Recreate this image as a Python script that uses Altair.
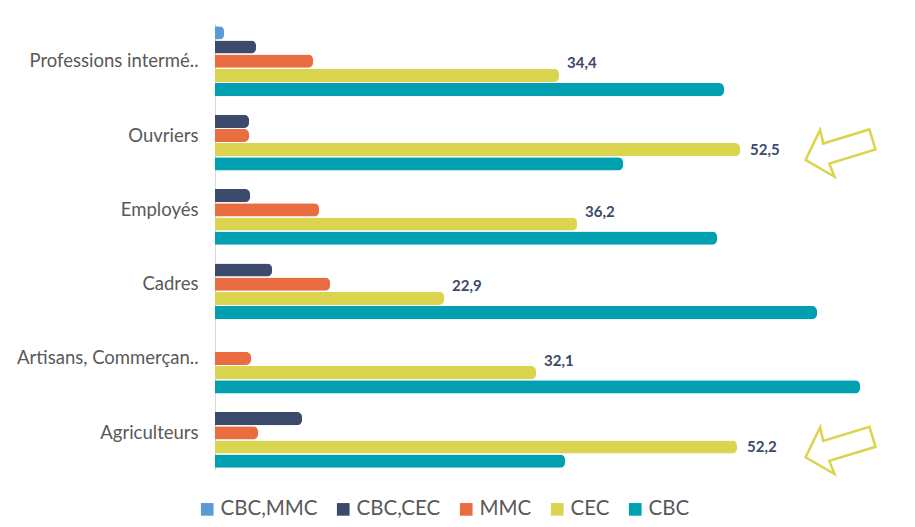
import altair as alt
import pandas as pd

categories = ["Professions intermé..", "Ouvriers", "Employés", "Cadres",
              "Artisans, Commerçan..", "Agriculteurs"]
series = ["CBC,MMC", "CBC,CEC", "MMC", "CEC", "CBC"]
cbc_mmc = [0.9, 0.0, 0.0, 0.0, 0.0, 0.0]
cbc_cec = [4.1, 3.4, 3.5, 5.7, 0.0, 8.7]
mmc = [9.8, 3.4, 10.4, 11.5, 3.6, 4.3]
cec = [34.4, 52.5, 36.2, 22.9, 32.1, 52.2]
cbc = [50.9, 40.8, 50.2, 60.2, 64.5, 35.0]
colors = ["#5b9bd5", "#3c4a6b", "#ea6c41", "#dbd44f", "#00a0b0"]
highlighted = ["Ouvriers", "Agriculteurs"]
arrow_x = 62.4

values = {"CBC,MMC": cbc_mmc, "CBC,CEC": cbc_cec, "MMC": mmc, "CEC": cec, "CBC": cbc}
rows = []
for s in series:
    for c, v in zip(categories, values[s]):
        rows.append({"cat": c, "series": s, "value": v,
                     "label": f"{v:.1f}".replace(".", ",")})
df = pd.DataFrame(rows)
arrows = pd.DataFrame({"cat": highlighted, "series": ["CEC"] * len(highlighted),
                       "value": [arrow_x] * len(highlighted)})

FONT = "Lato"
y_enc = alt.Y("cat:N", sort=categories,
              scale=alt.Scale(domain=categories, paddingInner=0.059, paddingOuter=0.03),
              axis=alt.Axis(title=None, ticks=False, domainColor="#d9d9d9",
                            labelColor="#595959", labelFontSize=18.5, labelFont=FONT,
                            labelPadding=17, labelLimit=300))
yoff_enc = alt.YOffset("series:N", sort=series,
                       scale=alt.Scale(domain=series, paddingInner=0.07, paddingOuter=0))
x_enc = alt.X("value:Q", scale=alt.Scale(domain=[0, 66], nice=False), axis=None)

base = alt.Chart(df)

bars = base.transform_filter("datum.value > 0").mark_bar(cornerRadiusEnd=5).encode(
    y=y_enc, yOffset=yoff_enc, x=x_enc,
    color=alt.Color("series:N", sort=series,
                    scale=alt.Scale(domain=series, range=colors),
                    legend=alt.Legend(title=None, orient="none", direction="horizontal",
                                      legendX=-18, legendY=475,
                                      symbolType="square", symbolSize=160,
                                      symbolStrokeWidth=0,
                                      labelFontSize=20.5, labelFont=FONT,
                                      labelColor="#595959", labelOffset=3,
                                      columnPadding=15)),
)

labels_hi = base.transform_filter(
    "datum.series == 'CEC' && datum.value > 50").mark_text(
    align="left", baseline="middle", dx=10, dy=0, fontSize=15, fontWeight="bold",
    font=FONT, color="#3b4a6b").encode(y=y_enc, yOffset=yoff_enc, x=x_enc, text="label:N")

labels_lo = base.transform_filter(
    "datum.series == 'CEC' && datum.value <= 50").mark_text(
    align="left", baseline="middle", dx=8, dy=-12, fontSize=15, fontWeight="bold",
    font=FONT, color="#3b4a6b").encode(y=y_enc, yOffset=yoff_enc, x=x_enc, text="label:N")

arrow_path = "M -1 0 L -0.35 -0.7 L -0.38 -0.3 L 1 -0.3 L 1 0.3 L -0.38 0.3 L -0.35 0.7 Z"
arrow_marks = alt.Chart(arrows).mark_point(
    shape=arrow_path, filled=False, stroke="#dbd44f", strokeWidth=2.5,
    size=4900, angle=343, opacity=1).encode(y=y_enc, yOffset=yoff_enc, x=x_enc)

chart = alt.layer(bars, labels_hi, labels_lo, arrow_marks).properties(
    width=660, height=446,
    autosize=alt.AutoSizeParams(type="none"),
    padding={"left": 207, "top": 16, "right": 32, "bottom": 49},
    background="white",
).configure_view(stroke=None)

chart.save("out.html", embed_options={"renderer": "svg", "actions": False})
